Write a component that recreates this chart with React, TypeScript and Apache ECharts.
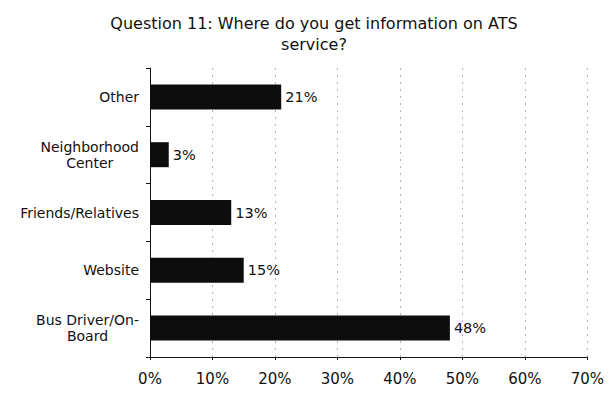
import React, { useEffect, useRef } from "react";
import * as echarts from "echarts";

const titleText = "Question 11: Where do you get information on ATS\nservice?";
const categories = ["Bus Driver/On-\nBoard", "Website", "Friends/Relatives", "Neighborhood\nCenter", "Other"];
const values = [48, 15, 13, 3, 21];
const axisMax = 70;
const axisInterval = 10;

const FONT = "'DejaVu Sans', Verdana, sans-serif";

export default function App() {
  const ref = useRef<HTMLDivElement>(null);
  useEffect(() => {
    if (!ref.current) return;
    const chart = echarts.init(ref.current, null, { renderer: "svg" });
    chart.setOption({
      animation: false,
      backgroundColor: "#ffffff",
      title: {
        text: titleText,
        left: 301,
        textAlign: "center",
        top: 0,
        textStyle: {
          fontFamily: FONT,
          fontSize: 16,
          fontWeight: "normal",
          color: "#111",
          lineHeight: 21,
        },
      },
      grid: { left: 142, top: 60, width: 440, height: 298, containLabel: false },
      xAxis: {
        type: "value",
        min: 0,
        max: axisMax,
        interval: axisInterval,
        axisLine: { show: true, lineStyle: { color: "#111", width: 1 } },
        axisTick: { show: true, length: 3, lineStyle: { color: "#111" } },
        axisLabel: {
          formatter: (v: number) => v + "%",
          fontFamily: FONT,
          fontSize: 15,
          color: "#111",
          margin: 14,
        },
        splitLine: { show: true, lineStyle: { color: "#b5b5b5", type: [2, 5], width: 1 } },
      },
      yAxis: {
        type: "category",
        data: categories,
        axisLine: { show: true, lineStyle: { color: "#111", width: 1 } },
        axisTick: { show: true, length: 4, lineStyle: { color: "#111" } },
        axisLabel: {
          fontFamily: FONT,
          fontSize: 14,
          color: "#111",
          margin: 11,
          formatter: (v: string) => v.split("\n").map((s) => "{c|" + s + "}").join("\n"),
          rich: { c: { align: "center", fontFamily: FONT, fontSize: 14, color: "#111", lineHeight: 16 } },
        },
      },
      series: [
        {
          type: "bar",
          data: values,
          barWidth: 25,
          itemStyle: { color: "#0d0d0d" },
          label: {
            show: true,
            position: "right",
            distance: 4,
            formatter: (p: any) => p.value + "%",
            fontFamily: FONT,
            fontSize: 14.5,
            color: "#111",
          },
        },
      ],
    });
    return () => chart.dispose();
  }, []);
  return <div ref={ref} style={{ width: 599, height: 378 }} />;
}
